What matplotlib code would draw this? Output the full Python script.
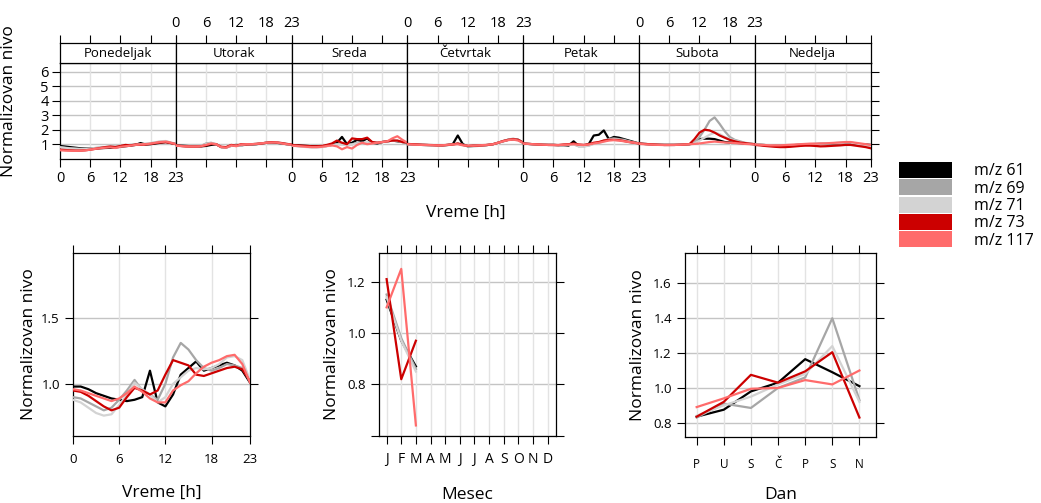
import matplotlib
matplotlib.use('Agg')
import matplotlib.pyplot as plt
from matplotlib.patches import Patch

plt.rcParams['font.family'] = ['Open Sans', 'DejaVu Sans']

series = ['m/z 61', 'm/z 69', 'm/z 71', 'm/z 73', 'm/z 117']
colors = ['#000000', '#A6A6A6', '#D3D3D3', '#CC0000', '#FF6B6B']

days = ['Ponedeljak', 'Utorak', 'Sreda', 'Četvrtak', 'Petak', 'Subota', 'Nedelja']
hours = list(range(24))

# day x hour (7 rows of 24)
mz61_week = [
    0.88, 0.84, 0.80, 0.76, 0.72, 0.70, 0.70, 0.70, 0.72, 0.74, 0.75, 0.78, 0.82, 0.86, 0.90, 0.95, 1.08, 0.98, 1.00, 1.05, 1.10, 1.15, 1.08, 1.02,
    0.95, 0.90, 0.88, 0.86, 0.85, 0.85, 0.88, 0.95, 1.00, 0.80, 0.78, 0.90, 0.95, 0.92, 1.00, 0.98, 1.00, 1.05, 1.10, 1.12, 1.10, 1.05, 1.00, 0.98,
    0.95, 0.92, 0.90, 0.88, 0.86, 0.85, 0.85, 0.88, 0.95, 1.10, 1.50, 1.00, 1.10, 1.30, 1.20, 1.40, 1.10, 1.05, 1.15, 1.20, 1.25, 1.20, 1.15, 1.10,
    1.00, 0.98, 0.96, 0.95, 0.94, 0.93, 0.92, 0.92, 0.95, 1.00, 1.60, 1.00, 0.85, 0.88, 0.90, 0.92, 0.95, 1.00, 1.10, 1.20, 1.30, 1.35, 1.30, 1.10,
    1.05, 1.02, 1.00, 0.98, 0.96, 0.95, 0.95, 0.93, 0.92, 0.90, 1.20, 0.88, 0.90, 1.00, 1.60, 1.65, 1.95, 1.35, 1.50, 1.45, 1.35, 1.25, 1.15, 1.05,
    1.05, 1.02, 1.00, 0.98, 0.96, 0.95, 0.95, 0.95, 0.96, 0.98, 1.00, 1.05, 1.35, 1.38, 1.38, 1.35, 1.25, 1.15, 1.12, 1.10, 1.08, 1.05, 1.02, 1.00,
    0.98, 0.96, 0.94, 0.92, 0.90, 0.90, 0.90, 0.92, 0.94, 0.96, 0.98, 1.00, 1.00, 1.02, 1.02, 1.04, 1.06, 1.08, 1.10, 1.08, 1.02, 1.00, 0.98, 0.95,
]
mz69_week = [
    0.80, 0.76, 0.72, 0.70, 0.68, 0.68, 0.70, 0.74, 0.78, 0.80, 0.82, 0.84, 0.88, 0.92, 0.95, 0.98, 1.00, 1.02, 1.06, 1.12, 1.18, 1.20, 1.10, 1.02,
    0.92, 0.88, 0.86, 0.85, 0.85, 0.88, 1.05, 1.10, 1.00, 0.80, 0.76, 0.88, 0.95, 0.90, 0.98, 1.00, 1.02, 1.06, 1.10, 1.14, 1.12, 1.06, 1.02, 0.98,
    0.92, 0.88, 0.85, 0.82, 0.80, 0.80, 0.82, 0.88, 0.95, 1.00, 1.00, 0.95, 1.00, 1.10, 1.10, 1.10, 1.10, 1.12, 1.15, 1.20, 1.25, 1.22, 1.15, 1.10,
    1.00, 0.98, 0.96, 0.95, 0.94, 0.93, 0.92, 0.92, 0.94, 0.98, 1.05, 0.95, 0.85, 0.86, 0.88, 0.90, 0.95, 1.00, 1.10, 1.22, 1.32, 1.38, 1.30, 1.10,
    1.05, 1.02, 1.00, 0.98, 0.96, 0.95, 0.95, 0.93, 0.92, 0.95, 1.00, 0.85, 0.85, 0.90, 1.05, 1.10, 1.25, 1.35, 1.40, 1.35, 1.30, 1.20, 1.12, 1.05,
    1.05, 1.02, 1.00, 0.98, 0.96, 0.95, 0.95, 0.95, 0.96, 0.98, 1.00, 1.10, 1.50, 2.00, 2.60, 2.85, 2.40, 1.90, 1.50, 1.30, 1.20, 1.10, 1.05, 1.00,
    0.98, 0.96, 0.94, 0.92, 0.90, 0.90, 0.90, 0.92, 0.94, 0.96, 0.98, 1.00, 1.02, 1.04, 1.05, 1.06, 1.08, 1.10, 1.12, 1.12, 1.05, 1.00, 0.95, 0.90,
]
mz71_week = [
    0.78, 0.74, 0.70, 0.68, 0.66, 0.66, 0.68, 0.72, 0.76, 0.80, 0.82, 0.84, 0.88, 0.92, 0.95, 0.98, 1.00, 1.03, 1.08, 1.14, 1.20, 1.22, 1.12, 1.03,
    0.90, 0.88, 0.85, 0.84, 0.84, 0.88, 1.00, 1.08, 1.02, 0.82, 0.78, 0.90, 0.96, 0.92, 1.00, 1.00, 1.02, 1.06, 1.10, 1.14, 1.14, 1.08, 1.02, 0.98,
    0.90, 0.86, 0.83, 0.80, 0.78, 0.78, 0.80, 0.86, 0.92, 0.98, 0.98, 0.95, 0.98, 1.05, 1.08, 1.10, 1.10, 1.12, 1.15, 1.20, 1.25, 1.25, 1.15, 1.10,
    1.00, 0.98, 0.96, 0.95, 0.94, 0.93, 0.92, 0.92, 0.94, 0.98, 1.02, 0.95, 0.86, 0.87, 0.88, 0.90, 0.95, 1.00, 1.10, 1.20, 1.30, 1.36, 1.28, 1.10,
    1.04, 1.02, 1.00, 0.98, 0.96, 0.95, 0.94, 0.93, 0.92, 0.95, 0.98, 0.88, 0.86, 0.90, 1.02, 1.08, 1.20, 1.30, 1.35, 1.30, 1.25, 1.18, 1.10, 1.04,
    1.04, 1.02, 1.00, 0.98, 0.96, 0.95, 0.95, 0.95, 0.96, 0.98, 1.00, 1.05, 1.25, 1.45, 1.65, 1.80, 1.70, 1.50, 1.35, 1.25, 1.15, 1.08, 1.03, 1.00,
    0.98, 0.96, 0.94, 0.92, 0.90, 0.90, 0.90, 0.92, 0.94, 0.96, 0.98, 1.00, 1.02, 1.04, 1.05, 1.06, 1.08, 1.10, 1.12, 1.12, 1.05, 1.00, 0.95, 0.90,
]
mz73_week = [
    0.62, 0.60, 0.58, 0.56, 0.56, 0.58, 0.62, 0.68, 0.74, 0.80, 0.84, 0.80, 0.88, 0.95, 0.92, 0.98, 0.96, 0.98, 1.02, 1.08, 1.12, 1.14, 1.08, 1.00,
    0.92, 0.88, 0.85, 0.84, 0.84, 0.86, 0.92, 1.02, 1.00, 0.82, 0.80, 0.95, 0.90, 1.00, 0.98, 1.00, 1.02, 1.05, 1.10, 1.14, 1.12, 1.08, 1.02, 0.98,
    0.95, 0.92, 0.90, 0.88, 0.86, 0.86, 0.88, 0.95, 1.05, 1.25, 1.10, 1.00, 1.40, 1.35, 1.35, 1.45, 1.15, 1.10, 1.15, 1.20, 1.25, 1.25, 1.15, 1.10,
    1.02, 1.00, 0.98, 0.96, 0.95, 0.94, 0.92, 0.92, 0.95, 0.98, 1.05, 0.95, 0.88, 0.90, 0.90, 0.92, 0.95, 1.00, 1.10, 1.22, 1.30, 1.35, 1.30, 1.10,
    1.05, 1.02, 1.00, 0.98, 0.96, 0.95, 0.95, 0.94, 0.98, 1.00, 1.05, 0.98, 0.95, 1.00, 1.10, 1.15, 1.25, 1.30, 1.30, 1.28, 1.22, 1.15, 1.10, 1.05,
    1.05, 1.02, 1.00, 0.98, 0.96, 0.95, 0.95, 0.95, 0.96, 0.98, 1.00, 1.35, 1.80, 2.00, 1.95, 1.80, 1.60, 1.45, 1.30, 1.20, 1.12, 1.08, 1.03, 1.00,
    0.95, 0.92, 0.88, 0.85, 0.82, 0.80, 0.80, 0.82, 0.85, 0.88, 0.90, 0.90, 0.88, 0.85, 0.86, 0.88, 0.90, 0.92, 0.95, 0.95, 0.90, 0.85, 0.80, 0.72,
]
mz117_week = [
    0.58, 0.56, 0.55, 0.54, 0.55, 0.58, 0.62, 0.68, 0.72, 0.76, 0.78, 0.74, 0.82, 0.86, 0.90, 0.95, 0.98, 1.00, 1.04, 1.10, 1.15, 1.18, 1.10, 1.00,
    0.90, 0.87, 0.85, 0.84, 0.84, 0.86, 0.95, 1.05, 1.00, 0.80, 0.76, 0.92, 0.86, 0.98, 1.00, 1.00, 1.02, 1.06, 1.10, 1.12, 1.12, 1.06, 1.00, 0.97,
    0.90, 0.88, 0.85, 0.82, 0.80, 0.80, 0.82, 0.88, 0.92, 0.85, 0.65, 0.80, 0.70, 0.95, 1.10, 1.00, 1.05, 1.10, 1.15, 1.20, 1.40, 1.55, 1.30, 1.10,
    1.00, 0.98, 0.96, 0.95, 0.94, 0.93, 0.92, 0.93, 0.96, 0.98, 1.00, 0.92, 0.90, 0.90, 0.92, 0.94, 0.96, 1.00, 1.10, 1.20, 1.28, 1.32, 1.25, 1.08,
    1.04, 1.02, 1.00, 0.98, 0.96, 0.95, 0.94, 0.94, 0.96, 0.98, 1.00, 0.96, 0.94, 0.98, 1.05, 1.10, 1.18, 1.25, 1.28, 1.25, 1.20, 1.15, 1.10, 1.05,
    1.02, 1.00, 0.98, 0.96, 0.95, 0.94, 0.94, 0.95, 0.96, 0.98, 1.00, 1.02, 1.05, 1.10, 1.15, 1.18, 1.15, 1.12, 1.10, 1.08, 1.05, 1.02, 1.00, 0.98,
    0.98, 0.96, 0.94, 0.92, 0.92, 0.92, 0.94, 0.96, 0.98, 1.00, 1.02, 1.04, 1.04, 1.05, 1.06, 1.08, 1.10, 1.12, 1.15, 1.15, 1.10, 1.05, 1.00, 0.95,
]

# mean diurnal profile
mz61_hour = [0.98, 0.98, 0.96, 0.93, 0.91, 0.89, 0.88, 0.87, 0.88, 0.90, 1.10, 0.86, 0.83, 0.92, 1.07, 1.12, 1.17, 1.10, 1.12, 1.14, 1.16, 1.14, 1.10, 1.01]
mz69_hour = [0.90, 0.89, 0.86, 0.83, 0.80, 0.82, 0.88, 0.95, 1.03, 0.95, 0.92, 0.88, 1.00, 1.20, 1.31, 1.26, 1.18, 1.12, 1.10, 1.12, 1.15, 1.14, 1.12, 1.02]
mz71_hour = [0.88, 0.86, 0.82, 0.78, 0.76, 0.77, 0.84, 0.92, 1.01, 0.96, 0.92, 0.86, 0.90, 1.00, 1.05, 1.10, 1.12, 1.11, 1.12, 1.15, 1.20, 1.21, 1.18, 1.03]
mz73_hour = [0.95, 0.94, 0.91, 0.87, 0.83, 0.80, 0.82, 0.90, 0.97, 0.95, 0.92, 0.95, 1.07, 1.18, 1.16, 1.14, 1.07, 1.06, 1.08, 1.10, 1.12, 1.13, 1.11, 1.02]
mz117_hour = [0.96, 0.95, 0.93, 0.91, 0.89, 0.87, 0.89, 0.93, 0.98, 0.94, 0.89, 0.86, 0.86, 0.95, 0.99, 1.02, 1.08, 1.13, 1.16, 1.18, 1.21, 1.22, 1.15, 1.01]

# monthly means (only Jan-Mar present)
month_labels = ['J', 'F', 'M', 'A', 'M', 'J', 'J', 'A', 'S', 'O', 'N', 'D']
months_present = [1, 2, 3]
mz61_month = [1.13, 0.97, 0.87]
mz69_month = [1.15, 0.98, 0.86]
mz71_month = [1.14, 0.97, 0.85]
mz73_month = [1.21, 0.82, 0.97]
mz117_month = [1.10, 1.25, 0.64]

# weekday means
day_labels = ['P', 'U', 'S', 'Č', 'P', 'S', 'N']
mz61_day = [0.835, 0.875, 0.98, 1.03, 1.165, 1.09, 1.01]
mz69_day = [0.83, 0.91, 0.885, 1.00, 1.06, 1.40, 0.93]
mz71_day = [0.84, 0.90, 0.95, 1.02, 1.08, 1.24, 0.92]
mz73_day = [0.835, 0.92, 1.075, 1.03, 1.095, 1.205, 0.83]
mz117_day = [0.89, 0.94, 0.995, 1.00, 1.045, 1.02, 1.10]

week_data = [mz61_week, mz69_week, mz71_week, mz73_week, mz117_week]
hour_data = [mz61_hour, mz69_hour, mz71_hour, mz73_hour, mz117_hour]
month_data = [mz61_month, mz69_month, mz71_month, mz73_month, mz117_month]
day_data = [mz61_day, mz69_day, mz71_day, mz73_day, mz117_day]

H_GRID = '#C4C4C4'
V_GRID = '#E3E3E3'
TICKLEN = 6

fig = plt.figure(figsize=(10.41, 5.03), dpi=100)

# ---- top: hour x weekday panels ----
W = 1041.0
Hpx = 503.0
left0, right0 = 60 / W, 870.7 / W
pbot, ptop = 1 - 158.7 / Hpx, 1 - 62.7 / Hpx
stop = 1 - 43.3 / Hpx
pw = (right0 - left0) / 7

for i, day in enumerate(days):
    ax = fig.add_axes([left0 + i * pw, pbot, pw, ptop - pbot])
    for k in range(5):
        ax.plot(hours, week_data[k][i * 24:(i + 1) * 24], color=colors[k], lw=1.6, zorder=3)
    ax.set_xlim(0, 23)
    ax.set_ylim(0, 6.62)
    for yv in range(1, 7):
        ax.axhline(yv, color=H_GRID, lw=1.0, zorder=1)
    for xv in [6, 12, 18]:
        ax.axvline(xv, color=V_GRID, lw=1.0, zorder=1)
    ax.set_xticks([0, 6, 12, 18, 23])
    ax.tick_params(axis='x', direction='out', length=TICKLEN, width=0.8, labelsize=10.5, pad=3)
    if i % 2 == 1:
        ax.set_xticklabels([])
    ax.set_yticks(range(1, 7))
    ax.tick_params(axis='y', direction='out', length=TICKLEN, width=0.8, labelsize=10.5, pad=2)
    if i == 0:
        ax.tick_params(axis='y', left=True, right=False, labelleft=True)
        ax.set_ylabel('Normalizovan nivo', fontsize=12.5, labelpad=4)
        ax.yaxis.set_label_coords(-0.37, 0.6)
    elif i == 6:
        ax.tick_params(axis='y', left=False, right=True, labelleft=False, labelright=False)
    else:
        ax.tick_params(axis='y', left=False, labelleft=False)
    for s in ax.spines.values():
        s.set_linewidth(0.9)

    st = fig.add_axes([left0 + i * pw, ptop, pw, stop - ptop])
    st.set_xlim(0, 23)
    st.set_yticks([])
    st.set_xticks([0, 6, 12, 18, 23])
    st.tick_params(axis='x', top=True, bottom=False, labeltop=(i % 2 == 1), labelbottom=False,
                   direction='out', length=TICKLEN, width=0.8, labelsize=10.5, pad=3)
    st.text(0.5, 0.45, day, transform=st.transAxes, ha='center', va='center', fontsize=9.5)
    for s in st.spines.values():
        s.set_linewidth(0.9)

fig.text((left0 + right0) / 2, 1 - 213 / Hpx, 'Vreme [h]', ha='center', va='center', fontsize=12.5)


def style_small(ax):
    ax.tick_params(direction='out', length=TICKLEN, width=0.8, top=True, right=True,
                   labeltop=False, labelright=False, labelsize=9.5)
    ax.tick_params(axis='x', pad=6)
    for s in ax.spines.values():
        s.set_linewidth(0.9)


# ---- bottom left: hour ----
ax1 = fig.add_axes([73 / W, 1 - 436 / Hpx, 177 / W, 183 / Hpx])
for k in range(5):
    ax1.plot(hours, hour_data[k], color=colors[k], lw=1.6, zorder=3)
ax1.set_xlim(0, 23)
ax1.set_ylim(0.606, 1.99)
for yv in [1.0, 1.5]:
    ax1.axhline(yv, color=H_GRID, lw=1.0, zorder=1)
for xv in [6, 12, 18]:
    ax1.axvline(xv, color=V_GRID, lw=1.0, zorder=1)
ax1.set_xticks([0, 6, 12, 18, 23])
ax1.set_yticks([1.0, 1.5])
ax1.set_yticklabels(['1.0', '1.5'])
style_small(ax1)
ax1.set_xlabel('Vreme [h]', fontsize=12.5, labelpad=14)
ax1.set_ylabel('Normalizovan nivo', fontsize=12.5, labelpad=3)

# ---- bottom middle: month ----
ax2 = fig.add_axes([379 / W, 1 - 435.7 / Hpx, 176.7 / W, 183 / Hpx])
for k in range(5):
    ax2.plot(months_present, month_data[k], color=colors[k], lw=1.6, zorder=3)
ax2.set_xlim(0.48, 12.55)
ax2.set_ylim(0.6, 1.313)
for yv in [0.6, 0.8, 1.0, 1.2]:
    ax2.axhline(yv, color=H_GRID, lw=1.0, zorder=1)
for xv in range(1, 13):
    ax2.axvline(xv, color=V_GRID, lw=1.0, zorder=1)
ax2.set_xticks(range(1, 13))
ax2.set_xticklabels(month_labels)
ax2.set_yticks([0.6, 0.8, 1.0, 1.2])
ax2.set_yticklabels(['', '0.8', '1.0', '1.2'])
style_small(ax2)
ax2.tick_params(axis='x', labelsize=10)
ax2.set_xlabel('Mesec', fontsize=12.5, labelpad=14)
ax2.set_ylabel('Normalizovan nivo', fontsize=12.5, labelpad=5)

# ---- bottom right: weekday ----
ax3 = fig.add_axes([685 / W, 1 - 436.7 / Hpx, 190.7 / W, 184 / Hpx])
xd = list(range(1, 8))
for k in range(5):
    ax3.plot(xd, day_data[k], color=colors[k], lw=1.6, zorder=3)
ax3.set_xlim(0.57, 7.6)
ax3.set_ylim(0.72, 1.776)
for yv in [0.8, 1.0, 1.2, 1.4, 1.6]:
    ax3.axhline(yv, color=H_GRID, lw=1.0, zorder=1)
for xv in xd:
    ax3.axvline(xv, color=V_GRID, lw=1.0, zorder=1)
ax3.set_xticks(xd)
ax3.set_xticklabels(day_labels)
ax3.set_yticks([0.8, 1.0, 1.2, 1.4, 1.6])
style_small(ax3)
ax3.tick_params(axis='x', labelsize=8.5, pad=9)
ax3.set_xlabel('Dan', fontsize=12.5, labelpad=12)
ax3.set_ylabel('Normalizovan nivo', fontsize=12.5, labelpad=5)

# ---- legend ----
handles = [Patch(facecolor=c, edgecolor='none') for c in colors]
fig.legend(handles, series, loc='upper left', bbox_to_anchor=(899 / W, 1 - 162 / Hpx),
           frameon=False, fontsize=11.5, handlelength=3.3, handleheight=1.15,
           labelspacing=0.0, handletextpad=1.4, borderpad=0, borderaxespad=0)

fig.savefig('out.png', dpi=100)
